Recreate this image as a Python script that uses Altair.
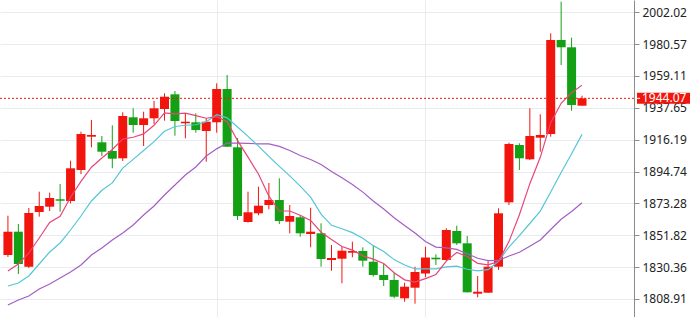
import altair as alt
import pandas as pd

idx = list(range(56))

opens = [1838.53, 1854.23, 1830.65, 1867.50, 1871.07, 1876.05, 1874.91, 1895.79, 1918.22, 1914.45,
         1908.59, 1903.67, 1931.29, 1926.10, 1930.61, 1936.88, 1946.78, 1927.25, 1927.92, 1922.06,
         1927.92, 1950.35, 1911.08, 1860.76, 1866.62, 1872.21, 1875.58, 1860.96, 1863.93, 1852.68,
         1853.15, 1835.16, 1836.04, 1840.08, 1841.23, 1834.02, 1825.06, 1821.69, 1809.36, 1816.51,
         1826.07, 1836.71, 1835.16, 1854.70, 1846.41, 1812.46, 1813.14, 1830.65, 1874.03, 1912.63,
         1903.00, 1917.55, 1920.04, 1983.36, 1978.44, 1939.10]

highs = [1865.00, 1859.41, 1870.19, 1881.17, 1880.50, 1886.36, 1902.05, 1921.59, 1929.47, 1918.69,
         1925.90, 1934.65, 1937.35, 1935.06, 1942.27, 1947.45, 1949.00, 1933.98, 1933.98, 1930.61,
         1954.19, 1959.78, 1917.34, 1881.17, 1884.54, 1887.03, 1890.20, 1872.21, 1865.48, 1870.39,
         1859.89, 1845.27, 1844.12, 1847.49, 1843.72, 1845.27, 1832.47, 1826.61, 1819.87, 1830.65,
         1844.12, 1839.00, 1856.52, 1858.27, 1851.33, 1824.39, 1835.16, 1869.99, 1914.18, 1913.77,
         1937.35, 1933.31, 1987.87, 2009.15, 1984.91, 1945.84]

lows = [1837.18, 1825.73, 1829.78, 1864.33, 1868.17, 1867.70, 1873.36, 1893.09, 1911.08, 1905.22,
        1896.93, 1901.85, 1920.91, 1911.95, 1926.77, 1929.00, 1918.89, 1917.14, 1920.91, 1901.38,
        1920.91, 1911.28, 1862.11, 1860.42, 1865.27, 1869.32, 1859.41, 1853.15, 1850.86, 1843.72,
        1830.65, 1827.96, 1819.47, 1836.98, 1830.65, 1823.91, 1817.65, 1809.36, 1807.07, 1805.73,
        1823.51, 1831.80, 1834.69, 1845.27, 1813.27, 1810.04, 1812.94, 1828.43, 1872.21, 1895.79,
        1902.52, 1908.11, 1918.22, 1966.52, 1935.73, 1939.10]

closes = [1854.23, 1832.47, 1866.82, 1871.54, 1876.93, 1875.11, 1896.93, 1920.04, 1919.36, 1908.11,
          1903.40, 1932.16, 1926.10, 1930.61, 1937.35, 1945.16, 1928.79, 1928.32, 1922.73, 1928.32,
          1950.35, 1911.48, 1864.80, 1867.30, 1871.74, 1875.58, 1861.43, 1864.80, 1853.15, 1854.23,
          1835.84, 1836.51, 1841.43, 1841.23, 1834.69, 1825.06, 1821.69, 1810.44, 1817.18, 1827.08,
          1836.85, 1835.64, 1855.37, 1846.41, 1813.41, 1813.81, 1830.65, 1866.62, 1913.30, 1903.67,
          1918.69, 1919.36, 1983.36, 1978.44, 1939.57, 1944.07]

ma5 = [1827.80, 1832.50, 1839.90, 1850.00, 1860.40, 1864.57, 1877.47, 1888.11, 1897.67, 1903.91,
       1909.57, 1916.61, 1917.83, 1920.08, 1925.92, 1934.28, 1933.60, 1934.05, 1932.47, 1930.66,
       1931.70, 1928.24, 1915.54, 1904.45, 1893.13, 1878.18, 1868.17, 1868.17, 1865.34, 1861.84,
       1853.89, 1848.91, 1844.23, 1841.85, 1837.94, 1835.78, 1832.82, 1826.62, 1821.81, 1820.29,
       1822.65, 1825.44, 1834.42, 1840.27, 1837.54, 1832.93, 1831.93, 1834.18, 1847.56, 1865.61,
       1886.59, 1904.33, 1927.68, 1940.70, 1947.88, 1952.96]

ma10 = [1817.66, 1819.67, 1824.39, 1832.47, 1840.55, 1846.62, 1855.37, 1864.80, 1874.91, 1882.15,
        1887.07, 1897.04, 1902.97, 1908.88, 1914.92, 1921.92, 1925.11, 1925.94, 1926.27, 1928.29,
        1932.99, 1930.92, 1924.79, 1918.46, 1911.90, 1904.94, 1898.21, 1891.85, 1884.90, 1877.49,
        1866.04, 1858.54, 1856.20, 1853.59, 1849.89, 1844.84, 1840.86, 1835.43, 1831.83, 1829.12,
        1829.22, 1829.13, 1830.52, 1831.04, 1828.91, 1827.79, 1828.68, 1834.30, 1843.91, 1851.57,
        1859.76, 1868.13, 1880.93, 1894.13, 1906.75, 1919.77]

ma20 = [1804.85, 1808.22, 1810.91, 1815.63, 1818.99, 1823.03, 1827.08, 1831.80, 1838.53, 1843.25,
        1848.66, 1853.35, 1858.74, 1865.48, 1871.54, 1878.95, 1885.68, 1892.42, 1897.81, 1905.22,
        1910.03, 1913.98, 1913.88, 1913.67, 1913.41, 1913.43, 1911.66, 1908.89, 1905.58, 1902.89,
        1899.51, 1894.73, 1890.50, 1886.03, 1880.89, 1874.89, 1869.53, 1863.64, 1858.36, 1853.30,
        1847.63, 1843.83, 1843.36, 1842.32, 1839.40, 1836.31, 1834.77, 1834.86, 1837.87, 1840.34,
        1844.49, 1848.63, 1855.73, 1862.59, 1867.83, 1873.78]

y_ticks = [1808.91, 1830.36, 1851.82, 1873.28, 1894.74, 1916.19, 1937.65, 1959.11, 1980.57, 2002.02]
x_grid = [20, 40]
last_price = 1944.07

df = pd.DataFrame({"i": idx, "open": opens, "high": highs, "low": lows, "close": closes,
                   "ma5": ma5, "ma10": ma10, "ma20": ma20})
df["dir"] = ["up" if c >= o else "down" for o, c in zip(opens, closes)]
last_df = pd.DataFrame({"p": [last_price]})

RED = "#f2150d"
GREEN = "#14a014"
GRID = "#e8ecf0"

xscale = alt.Scale(domain=[-0.28, 59.5], nice=False, zero=False)
yscale = alt.Scale(domain=[1796.77, 2010.3], nice=False, zero=False)
cscale = alt.Scale(domain=["up", "down"], range=[RED, GREEN])

x_enc = alt.X("i:Q", scale=xscale,
              axis=alt.Axis(values=x_grid, tickCount=10, labels=False, ticks=False,
                            domain=False, title=None, grid=True, gridColor=GRID, gridWidth=1))
y_axis = alt.Axis(orient="right", values=y_ticks, tickCount=30, format=".2f", title=None,
                  grid=True, gridColor=GRID, gridWidth=1,
                  domainColor="#8c8c8c", tickColor="#8c8c8c", tickSize=5,
                  labelPadding=3, labelFont="Noto Sans", labelFontSize=12,
                  labelColor="#222222", labelOverlap=False, labelFlush=False,
                  labelBound=False)

base = alt.Chart(df)

wicks = base.mark_rule(strokeWidth=1).encode(
    x=x_enc,
    y=alt.Y("low:Q", scale=yscale, axis=y_axis),
    y2="high:Q",
    color=alt.Color("dir:N", scale=cscale, legend=None),
)

bodies = base.mark_bar(size=9).encode(
    x=alt.X("i:Q", scale=xscale),
    y=alt.Y("open:Q", scale=yscale),
    y2="close:Q",
    color=alt.Color("dir:N", scale=cscale, legend=None),
)

line5 = base.mark_line(color="#e8457a", strokeWidth=1.2).encode(
    x=alt.X("i:Q", scale=xscale), y=alt.Y("ma5:Q", scale=yscale))
line10 = base.mark_line(color="#55c6d6", strokeWidth=1.2).encode(
    x=alt.X("i:Q", scale=xscale), y=alt.Y("ma10:Q", scale=yscale))
line20 = base.mark_line(color="#a45fc2", strokeWidth=1.2).encode(
    x=alt.X("i:Q", scale=xscale), y=alt.Y("ma20:Q", scale=yscale))

price_line = alt.Chart(last_df).mark_rule(color=RED, strokeDash=[2, 2], strokeWidth=1).encode(
    y=alt.Y("p:Q", scale=yscale), x=alt.value(0), x2=alt.value(634))

price_box = alt.Chart(last_df).mark_tick(color=RED, orient="horizontal", thickness=11,
                                         size=53, opacity=1).encode(
    y=alt.Y("p:Q", scale=yscale), x=alt.value(663.5))

price_tick = alt.Chart(last_df).mark_rule(color="white", strokeWidth=1).encode(
    y=alt.Y("p:Q", scale=yscale), x=alt.value(635), x2=alt.value(640))

price_text = alt.Chart(last_df).mark_text(align="left", baseline="middle", color="white",
                                          font="Noto Sans", fontSize=12).encode(
    y=alt.Y("p:Q", scale=yscale), x=alt.value(642), text=alt.Text("p:Q", format=".2f"))

chart = alt.layer(
    wicks, bodies, line20, line10, line5, price_line, price_box, price_tick, price_text
).properties(
    width=634, height=317,
    padding={"left": 0, "top": 0, "right": 56, "bottom": 0},
    autosize=alt.AutoSizeParams(type="none"),
    background="white",
).configure_view(stroke=None)

chart.save("out.html", embed_options={"renderer": "svg", "actions": False})
